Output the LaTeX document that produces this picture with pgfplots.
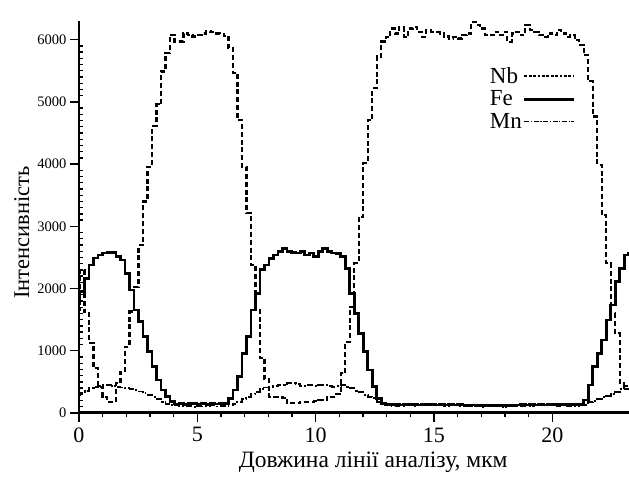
\documentclass[border=0pt]{standalone}
\usepackage{fontspec}
\setmainfont{Liberation Serif}
\usepackage{pgfplots}
\usepackage{pgfplotstable}
\pgfplotsset{compat=1.18}

% line scan profile, one sample every 0.19 um
\pgfplotstableread{
x nb fe mn
-0.05 1650 1770 290
0.14 2300 1950 320
0.33 1630 2165 350
0.52 1125 2380 400
0.71 720 2490 420
0.90 420 2540 430
1.09 260 2570 445
1.28 180 2577 450
1.47 180 2577 440
1.66 480 2510 425
1.85 660 2460 410
2.04 1065 2245 400
2.23 1630 1977 380
2.42 2030 1656 370
2.61 2700 1468 345
2.80 3400 1227 320
2.99 3960 986 290
3.18 4610 744 262
3.37 4960 530 230
3.56 5490 370 182
3.75 5780 262 150
3.94 6080 182 130
4.13 5970 145 120
4.32 5970 150 110
4.51 6100 140 105
4.70 6070 150 110
4.89 6050 155 100
5.08 6080 145 115
5.27 6100 150 105
5.46 6130 140 110
5.65 6120 150 120
5.84 6100 145 105
6.03 6090 150 110
6.22 6060 150 110
6.41 5860 235 120
6.60 5460 370 150
6.79 4710 585 182
6.98 3960 960 230
7.17 3210 1227 262
7.36 2380 1656 300
7.55 1680 1924 342
7.74 880 2300 380
7.93 550 2380 410
8.12 262 2487 423
8.31 262 2540 430
8.50 262 2593 450
8.69 240 2648 455
8.88 155 2593 475
9.07 155 2580 475
9.26 155 2570 470
9.45 180 2593 430
9.64 180 2540 450
9.83 180 2570 445
10.02 190 2513 430
10.21 210 2593 450
10.40 210 2648 445
10.59 262 2593 440
10.78 262 2570 425
10.97 300 2567 430
11.16 638 2513 450
11.35 1146 2326 420
11.54 1709 1924 397
11.73 2407 1603 360
11.92 3156 1281 342
12.11 4014 986 290
12.30 4710 691 260
12.49 5220 423 236
12.68 5728 236 170
12.87 5969 156 150
13.06 6045 140 120
13.25 6180 135 110
13.44 6100 140 115
13.63 6200 130 110
13.82 6045 135 120
14.01 6180 140 125
14.20 6200 135 115
14.39 6125 130 120
14.58 6045 135 130
14.77 6150 140 120
14.96 6125 135 125
15.15 6125 130 135
15.34 6100 135 120
15.53 6050 130 115
15.72 6018 135 125
15.91 6045 130 120
16.10 6018 135 110
16.29 6072 130 115
16.48 6100 125 105
16.67 6286 130 115
16.86 6233 125 110
17.05 6180 130 100
17.24 6072 125 110
17.43 6072 130 105
17.62 6125 125 115
17.81 6072 130 110
18.00 6125 125 100
18.19 5965 130 110
18.38 6100 125 115
18.57 6125 130 105
18.76 6072 135 110
18.95 6233 130 120
19.14 6150 135 115
19.33 6125 130 125
19.52 6072 135 120
19.71 6045 130 130
19.90 6100 135 120
20.09 6072 140 125
20.28 6150 135 115
20.47 6100 140 120
20.66 6045 135 110
20.85 6070 140 105
21.04 5990 135 115
21.23 5920 140 120
21.42 5750 209 130
21.61 5330 450 170
21.80 4764 744 200
21.99 3987 960 230
22.18 3183 1174 250
22.37 2407 1495 280
22.56 1603 1736 300
22.75 1281 2111 340
22.94 477 2326 390
23.13 380 2540 430
23.32 350 2560 450
}\profile

\begin{document}
\begin{tikzpicture}
\useasboundingbox (-79pt,-71pt) rectangle (550pt,413pt);
\begin{axis}[
  at={(0pt,0pt)}, anchor=south west,
  scale only axis, width=550pt, height=392pt,
  xmin=0, xmax=23.24, ymin=0, ymax=6300,
  axis lines=left,
  axis line style={-},
  x axis line style={line width=3pt},
  y axis line style={line width=2pt},
  tick align=outside,
  major tick length=9pt, minor tick length=4.5pt,
  tick style={black, line width=1.4pt},
  minor y tick style={xshift=4.5pt},
  xtick={0,5,10,15,20}, minor x tick num=4,
  ytick={0,1000,...,6000}, minor y tick num=9,
  scaled ticks=false,
  /pgf/number format/assume math mode=true,
  /pgf/number format/1000 sep={},
  xticklabel style={font=\fontsize{22}{24}\selectfont, yshift=-2pt},
  yticklabel style={font=\fontsize{14.5}{16}\selectfont},
  xlabel={Довжина лінії аналізу, мкм},
  ylabel={Інтенсивність},
  xlabel style={font=\fontsize{23.5}{26}\selectfont,
    at={(axis description cs:0.535,-0.125)}, anchor=center},
  ylabel style={font=\fontsize{22.5}{24}\selectfont,
    at={(axis description cs:-0.104,0.46)}, anchor=center},
  legend plot pos=right,
  legend cell align=left,
  legend style={draw=none, fill=none, inner sep=0pt, row sep=4pt,
    nodes={inner sep=1pt},
    at={(axis description cs:0.745,0.885)}, anchor=north west,
    font=\fontsize{23}{24}\selectfont},
]
\addplot[const plot mark mid, black, line width=2.2pt,
  dash pattern=on 5pt off 2.8pt,
  legend image code/.code={\draw[black, line width=1.3pt,
    dash pattern=on 2.8pt off 1.6pt] (0pt,0pt) -- (50pt,0pt);}]
  table[x=x, y=nb] {\profile};
\addplot[const plot mark mid, black, line width=2.8pt,
  legend image code/.code={\draw[black, line width=3pt]
    (0pt,0pt) -- (50pt,0pt);}]
  table[x=x, y=fe] {\profile};
\addplot[const plot mark mid, black, line width=1.9pt,
  dash pattern=on 6.5pt off 2.2pt on 1.8pt off 2.2pt,
  legend image code/.code={\draw[black, line width=1.3pt,
    dash pattern=on 5pt off 1.6pt on 1.2pt off 1.6pt] (0pt,0pt) -- (50pt,0pt);}]
  table[x=x, y=mn] {\profile};
\legend{Nb,Fe,Mn}
\end{axis}
\end{tikzpicture}
\end{document}
